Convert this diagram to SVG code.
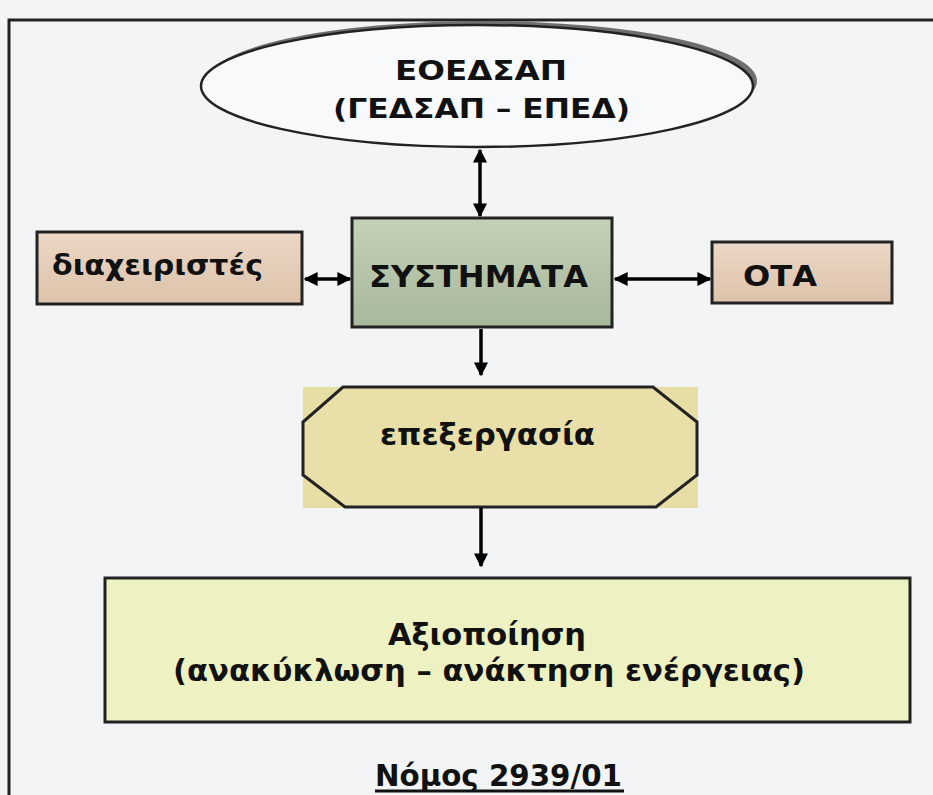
<svg xmlns="http://www.w3.org/2000/svg" width="933" height="795" viewBox="0 0 933 795">
<defs>
<marker id="ah" viewBox="0 0 10 10" refX="9" refY="5" markerWidth="4" markerHeight="4" orient="auto-start-reverse" markerUnits="strokeWidth">
<path d="M0,0 L10,5 L0,10 z" fill="#000"/>
</marker>
<linearGradient id="gSys" x1="0" y1="0" x2="0" y2="1">
<stop offset="0" stop-color="#c4d2b8"/>
<stop offset="1" stop-color="#a8b89c"/>
</linearGradient>
<linearGradient id="gTan" x1="0" y1="0" x2="0" y2="1">
<stop offset="0" stop-color="#ecd8c6"/>
<stop offset="1" stop-color="#dcc2aa"/>
</linearGradient>
</defs>
<style>
.t{font-family:"DejaVu Sans",Verdana,sans-serif;font-weight:bold;fill:#111}
.box{stroke:#222;stroke-width:3}
.con line{stroke:#000;stroke-width:3.5;marker-end:url(#ah)}
</style>
<rect x="0" y="0" width="933" height="795" fill="#f3f4f6"/>
<path d="M9,795 L9,20 L933,20" fill="none" stroke="#222" stroke-width="3"/>

<g id="eoedsap">
<ellipse cx="482" cy="81" rx="275" ry="60" fill="#6e6e6e"/>
<ellipse cx="477" cy="86" rx="276" ry="61" fill="#f8f9fa" stroke="#222" stroke-width="2.5"/>
<text class="t" x="395" y="80" font-size="27" textLength="172" lengthAdjust="spacingAndGlyphs">ΕΟΕΔΣΑΠ</text>
<text class="t" x="333" y="118" font-size="27" textLength="297" lengthAdjust="spacingAndGlyphs">(ΓΕΔΣΑΠ – ΕΠΕΔ)</text>
</g>

<g id="systimata">
<rect class="box" x="352" y="218" width="260" height="109" fill="url(#gSys)"/>
<text class="t" x="369" y="287" font-size="30" textLength="219" lengthAdjust="spacingAndGlyphs">ΣΥΣΤΗΜΑΤΑ</text>
</g>

<g id="diaxeiristes">
<rect class="box" x="37" y="232" width="265" height="72" fill="url(#gTan)"/>
<text class="t" x="52" y="275" font-size="28" textLength="211" lengthAdjust="spacingAndGlyphs">διαχειριστές</text>
</g>

<g id="ota">
<rect class="box" x="712" y="242" width="180" height="61" fill="url(#gTan)"/>
<text class="t" x="743" y="286" font-size="29" textLength="74" lengthAdjust="spacingAndGlyphs">ΟΤΑ</text>
</g>

<g id="epexergasia">
<rect x="303" y="387" width="395" height="121" fill="#e6dea4"/>
<polygon points="343,387 653,387 697,422 697,475 656,507 345,507 303,475 303,422" fill="#e8e0a8" stroke="#222" stroke-width="3"/>
<text class="t" x="380" y="445" font-size="30" textLength="215" lengthAdjust="spacingAndGlyphs">επεξεργασία</text>
</g>

<g id="axiopoiisi">
<rect class="box" x="105" y="578" width="805" height="144" fill="#eef2c2"/>
<text class="t" x="388" y="645" font-size="30" textLength="198" lengthAdjust="spacingAndGlyphs">Αξιοποίηση</text>
<text class="t" x="173" y="681" font-size="30" textLength="632" lengthAdjust="spacingAndGlyphs">(ανακύκλωση – ανάκτηση ενέργειας)</text>
</g>

<g id="nomos">
<text class="t" x="375" y="786" font-size="30" textLength="247" lengthAdjust="spacingAndGlyphs">Νόμος 2939/01</text>
<line x1="375" y1="791" x2="624" y2="791" stroke="#111" stroke-width="3"/>
</g>

<g class="con" id="connectors">
<line x1="480" y1="150" x2="480" y2="216" marker-start="url(#ah)"/>
<line x1="305" y1="279" x2="350" y2="279" marker-start="url(#ah)"/>
<line x1="615" y1="279" x2="710" y2="279" marker-start="url(#ah)"/>
<line x1="481" y1="329" x2="481" y2="375"/>
<line x1="481" y1="508" x2="481" y2="566"/>
</g>
</svg>
